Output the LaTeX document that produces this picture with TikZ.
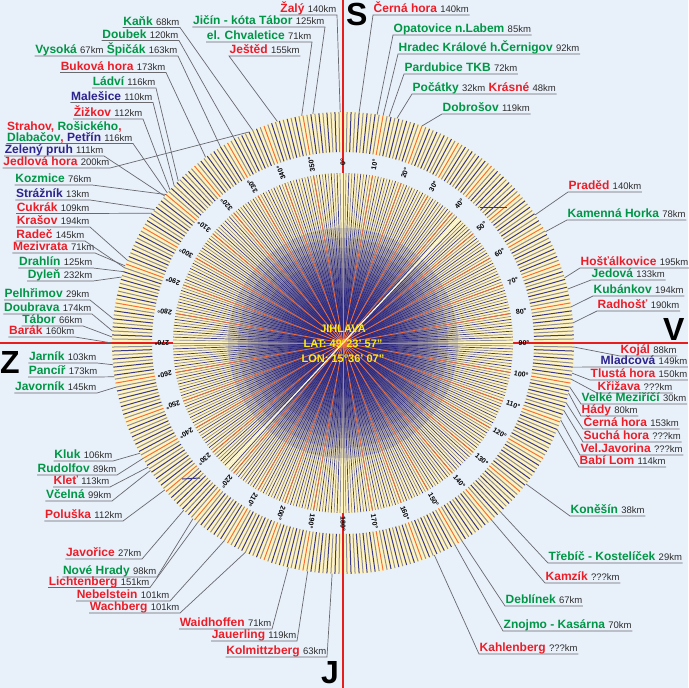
\documentclass[tikz,border=0pt]{standalone}
\usepackage{fontspec}
\setmainfont{Liberation Sans}
\usepackage{tikz}
\definecolor{bgblue}{RGB}{232,240,250}
\definecolor{ringyellow}{RGB}{255,244,190}
\definecolor{tickblue}{RGB}{55,55,140}
\definecolor{tickgray}{RGB}{140,140,155}
\definecolor{tickred}{RGB}{245,110,60}
\definecolor{axisred}{RGB}{230,30,30}
\definecolor{centreblue}{RGB}{35,30,125}
\definecolor{brightyellow}{RGB}{255,252,215}
\definecolor{namered}{RGB}{235,30,40}
\definecolor{namegreen}{RGB}{0,150,70}
\definecolor{nameblue}{RGB}{45,35,140}
\definecolor{kmgray}{RGB}{45,45,45}
\definecolor{leadergray}{RGB}{105,105,110}
\definecolor{cityyellow}{RGB}{255,235,20}

\tikzset{
  site/.style={inner xsep=0.5pt, inner ysep=2pt, text depth=0pt, align=left,
    font=\fontsize{12}{13.5}\selectfont},
  siteL/.style={site, anchor=south east},
  siteR/.style={site, anchor=south west},
  leader/.style={draw=leadergray, line width=0.7pt},
  degree/.style={inner sep=0pt, font=\fontsize{7}{7}\selectfont\bfseries},
  compass/.style={anchor=base west, inner sep=0pt, font=\fontsize{32}{32}\selectfont\bfseries},
  cityinfo/.style={text=cityyellow, inner sep=0pt, font=\fontsize{11}{12}\selectfont\bfseries},
  axis/.style={draw=axisred, line width=2pt},
}
\newcommand{\sitered}[1]{\textcolor{namered}{\bfseries #1}}
\newcommand{\sitegreen}[1]{\textcolor{namegreen}{\bfseries #1}}
\newcommand{\siteblue}[1]{\textcolor{nameblue}{\bfseries #1}}
\newcommand{\km}[1]{\textcolor{kmgray}{\fontsize{9.5}{11}\selectfont #1}}

\begin{document}
\begin{tikzpicture}[x=1pt,y=-1pt]
\useasboundingbox (0,0) rectangle (688,688);
\fill[bgblue] (0,0) rectangle (688,688);
\coordinate (c) at (343,343);

% outer scale ring
\begin{scope}[shift={(c)}]
\fill[ringyellow, even odd rule] (0,0) circle[radius=231] (0,0) circle[radius=191];
\foreach \b in {0,...,359}{
  \pgfmathtruncatemacro{\m}{mod(\b,10)}
  \pgfmathtruncatemacro{\p}{mod(\b,2)}
  \ifnum\m=0 \def\col{tickred}\else\ifnum\p=0 \def\col{tickblue}\else\def\col{tickgray}\fi\fi
  \draw[draw=\col, line width=1pt] (\b-90:191) -- (\b-90:231);
}
\end{scope}

% axes
\draw[axis] (343,0) -- (343,688);
\draw[axis] (0,343) -- (688,343);

% inner disk
\begin{scope}[shift={(c)}]
\fill[ringyellow] (0,0) circle[radius=170];
\foreach \b in {0,...,359}{
  \pgfmathtruncatemacro{\p}{mod(\b,2)}
  \ifnum\p=0 \def\col{tickblue}\else\def\col{tickgray}\fi
  \draw[draw=\col, line width=0.7pt] (0,0) -- (\b-90:170);
}
\foreach \r in {115,105,...,15}
  \fill[centreblue, opacity=0.14] (0,0) circle[radius=\r];
\foreach \b in {0,10,...,350}
  \draw[draw=tickred, line width=0.8pt] (0,0) -- (\b-90:170);
\draw[draw=brightyellow, line width=1.2pt] (223-90:170) -- (43-90:170);
\foreach \b in {0,10,...,350}
  \node[degree, rotate=90-\b] (deg\b) at (\b-90:181) {\b°};
% ring end points of the leaders
\foreach \n/\b in {zaly/359.3, cernahora/4, opatovice/8.5, hradec/10, pardubice/11.5,
    pocatky/13.5, dobrosov/20, praded/56.3, kamenna/61.2, hostalkovice/73.6,
    jedova/76.5, kubankov/81, radhost/85, kojal/91, mladcova/96, tlusta/97.5,
    krizava/99, velke/101, hady/102.5, cernahorab/105, sucha/107, javorina/109.5,
    babilom/112, konesin/127.6, trebic/137, kamzik/140, deblinek/149, znojmo/151,
    kahlenberg/156.7, kolmitz/182.7, jauerling/188.8, waidhoffen/193.7,
    wachberg/205, nebelstein/211, lichtenberg/219, novehrady/220.5, javorice/223.6,
    poluska/230.5, vcelna/236.5, klet/237.5, rudolfov/240, kluk/241.5,
    javornik/259, pancir/261.6, jarnik/264.6, barak/270, tabor/271.5,
    doubrava/273, pelhrimov/276, dylen/286.6, drahlin/288, mezivrata/289.5,
    radec/289, krasov/291, cukrak/304.2, straznik/305.3, kozmice/310,
    jedlova/336, zeleny/309.5, strahov/310.5, zizkov/311.5, malesice/313,
    ladvi/314.5, bukova/323.5, vysoka/328, doubek/332, kank/337, jested/343.5,
    chvaletice/349.7, jicin/352.5}
  \coordinate (e-\n) at (\b-90:231);
\end{scope}

\coordinate (s1a) at (480,207);
\coordinate (s1b) at (507,207);
\coordinate (s2a) at (182,479);
\coordinate (s2b) at (200,478);
\draw[tickblue, line width=1pt] (s1a) -- (s1b);
\draw[tickblue, line width=1pt] (s2a) -- (s2b);

% centre
\node[cityinfo] (city) at (343,329) {JIHLAVA};
\node[cityinfo] (lat) at (343,344) {LAT: 49°23' 57''};
\node[cityinfo] (lon) at (343,359) {LON: 15°36' 07''};

% compass letters
\node[compass] (north) at (346,25) {S};
\node[compass] (east) at (663,340) {V};
\node[compass] (west) at (0,373) {Z};
\node[compass] (south) at (321,683) {J};

% labels, left of their leader
\node[siteL] (kank) at (180,27.5) {\sitegreen{Kaňk} \km{68km}};
\node[siteL] (doubek) at (179,40.5) {\sitegreen{Doubek} \km{120km}};
\node[siteL] (vysoka) at (178,56) {\sitegreen{Vysoká} \km{67km} \sitegreen{Špičák} \km{163km}};
\node[siteL] (bukova) at (166,72.5) {\sitered{Buková hora} \km{173km}};
\node[siteL] (ladvi) at (156,88) {\sitegreen{Ládví} \km{116km}};
\node[siteL] (malesice) at (153,102.5) {\siteblue{Malešice} \km{110km}};
\node[siteL] (zizkov) at (143,119) {\sitered{Žižkov} \km{112km}};
\node[siteL, font=\fontsize{12}{11}\selectfont] (strahov) at (133,143.5)
  {\sitered{Strahov,} \sitegreen{Rošického}\sitered{,}\\
  \sitegreen{Dlabačov}\sitered{,} \siteblue{Petřín} \km{116km}};
\node[siteL] (zeleny) at (104,156) {\siteblue{Zelený pruh} \km{111km}};
\node[siteL] (jedlova) at (110,168) {\sitered{Jedlová hora} \km{200km}};
\node[siteL] (kozmice) at (92,185) {\sitegreen{Kozmice} \km{76km}};
\node[siteL] (straznik) at (90,200) {\siteblue{Strážník} \km{13km}};
\node[siteL] (cukrak) at (90,213.5) {\sitered{Cukrák} \km{109km}};
\node[siteL] (krasov) at (90,227) {\sitered{Krašov} \km{194km}};
\node[siteL] (radec) at (85,241) {\sitered{Radeč} \km{145km}};
\node[siteL] (mezivrata) at (95,253) {\sitered{Mezivrata} \km{71km}};
\node[siteL] (drahlin) at (93,268) {\sitegreen{Drahlín} \km{125km}};
\node[siteL] (dylen) at (93,281) {\sitegreen{Dyleň} \km{232km}};
\node[siteL] (pelhrimov) at (90,300) {\sitegreen{Pelhřimov} \km{29km}};
\node[siteL] (doubrava) at (92,314) {\sitegreen{Doubrava} \km{174km}};
\node[siteL] (tabor) at (83,326) {\sitegreen{Tábor} \km{66km}};
\node[siteL] (barak) at (75,337) {\sitered{Barák} \km{160km}};
\node[siteL] (jarnik) at (97,363) {\sitegreen{Jarník} \km{103km}};
\node[siteL] (pancir) at (98,377) {\sitegreen{Pancíř} \km{173km}};
\node[siteL] (javornik) at (97,393) {\sitegreen{Javorník} \km{145km}};
\node[siteL] (kluk) at (113,461) {\sitegreen{Kluk} \km{106km}};
\node[siteL] (rudolfov) at (117,475) {\sitegreen{Rudolfov} \km{89km}};
\node[siteL] (klet) at (110,487) {\sitered{Kleť} \km{113km}};
\node[siteL] (vcelna) at (112,501) {\sitegreen{Včelná} \km{99km}};
\node[siteL] (poluska) at (123,521) {\sitered{Poluška} \km{112km}};
\node[siteL] (javorice) at (142,559) {\sitered{Javořice} \km{27km}};
\node[siteL] (novehrady) at (157,577) {\sitegreen{Nové Hrady} \km{98km}};
\node[siteL] (lichtenberg) at (150,587.5) {\sitered{Lichtenberg} \km{151km}};
\node[siteL] (nebelstein) at (170,601) {\sitered{Nebelstein} \km{101km}};
\node[siteL] (wachberg) at (180,613) {\sitered{Wachberg} \km{101km}};
\node[siteL] (waidhoffen) at (272,629) {\sitered{Waidhoffen} \km{71km}};
\node[siteL] (jauerling) at (297,641) {\sitered{Jauerling} \km{119km}};
\node[siteL] (kolmitz) at (327,657) {\sitered{Kolmittzberg} \km{63km}};
\node[siteL] (zaly) at (337,15) {\sitered{Žalý} \km{140km}};
\node[siteL] (jicin) at (325,27) {\sitegreen{Jičín - kóta Tábor} \km{125km}};
\node[siteL] (chvaletice) at (312,42) {\sitegreen{el. Chvaletice} \km{71km}};

% labels, right of their leader
\node[siteR] (jested) at (229,56) {\sitered{Ještěd} \km{155km}};
\node[siteR] (cernahora) at (373,15) {\sitered{Černá hora} \km{140km}};
\node[siteR] (opatovice) at (393,35) {\sitegreen{Opatovice n.Labem} \km{85km}};
\node[siteR] (hradec) at (398,54) {\sitegreen{Hradec Králové h.Černigov} \km{92km}};
\node[siteR] (pardubice) at (404,74) {\sitegreen{Pardubice TKB} \km{72km}};
\node[siteR] (pocatky) at (412,94) {\sitegreen{Počátky} \km{32km} \sitered{Krásné} \km{48km}};
\node[siteR] (dobrosov) at (442,114) {\sitegreen{Dobrošov} \km{119km}};
\node[siteR] (praded) at (568,192) {\sitered{Praděd} \km{140km}};
\node[siteR] (kamenna) at (567,220) {\sitegreen{Kamenná Horka} \km{78km}};
\node[siteR] (hostalkovice) at (580,268) {\sitered{Hošťálkovice} \km{195km}};
\node[siteR] (jedova) at (591,280) {\sitegreen{Jedová} \km{133km}};
\node[siteR] (kubankov) at (593,296) {\sitegreen{Kubánkov} \km{194km}};
\node[siteR] (radhost) at (597,311) {\sitered{Radhošť} \km{190km}};
\node[siteR] (kojal) at (620,356) {\sitered{Kojál} \km{88km}};
\node[siteR] (mladcova) at (600,367) {\siteblue{Mladcová} \km{149km}};
\node[siteR] (tlusta) at (590,380) {\sitered{Tlustá hora} \km{150km}};
\node[siteR] (krizava) at (597,393) {\sitered{Křižava} \km{???km}};
\node[siteR] (velke) at (581,404) {\sitegreen{Velké Meziříčí} \km{30km}};
\node[siteR] (hady) at (581,416) {\sitered{Hády} \km{80km}};
\node[siteR] (cernahorab) at (583,429) {\sitered{Černá hora} \km{153km}};
\node[siteR] (sucha) at (583,442) {\sitered{Suchá hora} \km{???km}};
\node[siteR] (javorina) at (580,455) {\sitered{Vel.Javorina} \km{???km}};
\node[siteR] (babilom) at (579,467) {\sitered{Babí Lom} \km{114km}};
\node[siteR] (konesin) at (570,516) {\sitegreen{Koněšín} \km{38km}};
\node[siteR] (trebic) at (548,563) {\sitegreen{Třebíč - Kostelíček} \km{29km}};
\node[siteR] (kamzik) at (545,583) {\sitered{Kamzík} \km{???km}};
\node[siteR] (deblinek) at (505,606) {\sitegreen{Deblínek} \km{67km}};
\node[siteR] (znojmo) at (503,631) {\sitegreen{Znojmo - Kasárna} \km{70km}};
\node[siteR] (kahlenberg) at (479,654) {\sitered{Kahlenberg} \km{???km}};

% underlines and leaders
\foreach \n in {kank,doubek,vysoka,bukova,ladvi,malesice,zizkov,strahov,zeleny,
    jedlova,kozmice,straznik,cukrak,krasov,radec,mezivrata,drahlin,dylen,
    pelhrimov,doubrava,tabor,barak,jarnik,pancir,javornik,kluk,rudolfov,klet,
    vcelna,poluska,javorice,novehrady,lichtenberg,nebelstein,wachberg,
    waidhoffen,jauerling,kolmitz,zaly,jicin,chvaletice}
  \draw[leader] (\n.south west) -- (\n.south east) -- (e-\n);
\foreach \n in {jested,cernahora,opatovice,hradec,pardubice,pocatky,dobrosov,
    praded,kamenna,hostalkovice,jedova,kubankov,radhost,kojal,mladcova,tlusta,
    krizava,velke,hady,cernahorab,sucha,javorina,babilom,konesin,trebic,kamzik,
    deblinek,znojmo,kahlenberg}
  \draw[leader] (\n.south east) -- (\n.south west) -- (e-\n);
\end{tikzpicture}
\end{document}
